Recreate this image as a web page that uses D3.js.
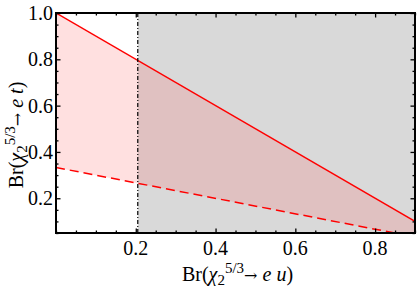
<!DOCTYPE html>
<html>
<head>
<meta charset="utf-8">
<script src="https://cdn.jsdelivr.net/npm/d3@7"></script>
<style>
    body { margin: 0; background: #fff; }
    text { font-family: "Liberation Serif", "DejaVu Serif", serif; }
</style>
</head>
<body>
<svg id="chart" width="417" height="288"></svg>
<script>
// data
var xDomain = [0, 0.9],
    yDomain = [0.05, 1.0],
    xTicks = [0.2, 0.4, 0.6, 0.8],
    yTicks = [0.2, 0.4, 0.6, 0.8, 1.0],
    cutX = 0.205,                       // excluded region starts here
    upperX = [0, 0.9], upperY = [1.0, 0.1],       // solid bound
    lowerX = [0, 0.9], lowerY = [0.333, 0.033];   // dashed bound

var margin = { top: 13, right: 2, bottom: 55, left: 56 },
    width = 417 - margin.left - margin.right,
    height = 288 - margin.top - margin.bottom;

var svg = d3.select('#chart'),
    g = svg.append('g').attr('transform', 'translate(' + margin.left + ',' + margin.top + ')');

var x = d3.scaleLinear().domain(xDomain).range([0, width]),
    y = d3.scaleLinear().domain(yDomain).range([height, 0]);

var clip = g.append('clipPath').attr('id', 'plot-clip');
clip.append('rect').attr('width', width).attr('height', height);

var plot = g.append('g').attr('clip-path', 'url(#plot-clip)');

// grey excluded region
plot.append('rect')
    .attr('x', x(cutX))
    .attr('y', 0)
    .attr('width', width - x(cutX))
    .attr('height', height)
    .attr('fill', '#d9d9d9');

// band between the two bounds
var band = upperX.map(function(d, i) { return { x: d, y0: lowerY[i], y1: upperY[i] }; });
plot.append('path')
    .datum(band)
    .attr('fill', 'rgb(255,100,100)')
    .attr('fill-opacity', 0.2)
    .attr('d', d3.area()
        .x(function(d) { return x(d.x); })
        .y0(function(d) { return y(d.y0); })
        .y1(function(d) { return y(d.y1); }));

var line = d3.line()
    .x(function(d) { return x(d[0]); })
    .y(function(d) { return y(d[1]); });

plot.append('path')
    .datum(d3.zip(upperX, upperY))
    .attr('fill', 'none')
    .attr('stroke', '#f00')
    .attr('stroke-width', 1.5)
    .attr('d', line);

plot.append('path')
    .datum(d3.zip(lowerX, lowerY))
    .attr('fill', 'none')
    .attr('stroke', '#f00')
    .attr('stroke-width', 1.5)
    .attr('stroke-dasharray', '9,5')
    .attr('d', line);

// dash-dot cut line
plot.append('line')
    .attr('x1', x(cutX)).attr('x2', x(cutX))
    .attr('y1', 0).attr('y2', height)
    .attr('stroke', '#000')
    .attr('stroke-width', 1.2)
    .attr('stroke-dasharray', '4,2,1,2');

// frame ticks, inward, on all four sides
function minor(domain, step) {
    var out = [];
    for (var v = Math.ceil(domain[0] / step) * step; v <= domain[1] + 1e-9; v += step) out.push(+v.toFixed(3));
    return out;
}
var xMinor = minor(xDomain, 0.05).filter(function(v) { return xTicks.indexOf(v) < 0; }),
    yMinor = minor(yDomain, 0.05).filter(function(v) { return yTicks.indexOf(v) < 0; });

function frameAxis(axis, ticks, len, transform) {
    g.append('g')
        .attr('transform', transform)
        .call(axis.tickValues(ticks).tickSize(len).tickFormat(''))
        .call(function(s) {
            s.select('.domain').remove();
            s.selectAll('line').attr('stroke', '#000').attr('stroke-width', 1.3);
        });
}
frameAxis(d3.axisTop(x), xTicks, 4.5, 'translate(0,' + height + ')');
frameAxis(d3.axisTop(x), xMinor, 2.5, 'translate(0,' + height + ')');
frameAxis(d3.axisBottom(x), xTicks, 4.5, 'translate(0,0)');
frameAxis(d3.axisBottom(x), xMinor, 2.5, 'translate(0,0)');
frameAxis(d3.axisRight(y), yTicks, 4.5, 'translate(0,0)');
frameAxis(d3.axisRight(y), yMinor, 2.5, 'translate(0,0)');
frameAxis(d3.axisLeft(y), yTicks, 4.5, 'translate(' + width + ',0)');
frameAxis(d3.axisLeft(y), yMinor, 2.5, 'translate(' + width + ',0)');

g.append('rect')
    .attr('width', width)
    .attr('height', height)
    .attr('fill', 'none')
    .attr('stroke', '#000')
    .attr('stroke-width', 2);

// tick labels
g.selectAll('.xlab')
    .data(xTicks)
    .enter().append('text')
    .attr('class', 'xlab')
    .attr('x', function(d) { return x(d); })
    .attr('y', height + 22)
    .attr('text-anchor', 'middle')
    .attr('font-size', 20)
    .text(d3.format('.1f'));

g.selectAll('.ylab')
    .data(yTicks)
    .enter().append('text')
    .attr('class', 'ylab')
    .attr('x', -3)
    .attr('y', function(d) { return y(d) + 7; })
    .attr('text-anchor', 'end')
    .attr('font-size', 20)
    .text(d3.format('.1f'));

// axis titles
function title(sel, final) {
    sel.append('tspan').text('Br(');
    sel.append('tspan').attr('font-style', 'italic').text('\u03c7');
    sel.append('tspan').attr('font-size', 15).attr('dy', 4).text('2');
    sel.append('tspan').attr('font-size', 15).attr('dy', -12).text('5/3');
    sel.append('tspan').attr('dy', 8).attr('font-family', 'DejaVu Serif').attr('font-size', 16).text('\u2192');
    sel.append('tspan').attr('font-style', 'italic').text(' e u'.replace('u', final));
    sel.append('tspan').text(')');
}

svg.append('text')
    .attr('x', margin.left + width / 2 + 2)
    .attr('y', 281)
    .attr('text-anchor', 'middle')
    .attr('font-size', 20)
    .call(title, 'u');

svg.append('text')
    .attr('transform', 'translate(23,' + (margin.top + height / 2 + 12) + ') rotate(-90)')
    .attr('text-anchor', 'middle')
    .attr('font-size', 20)
    .call(title, 't');
</script>
</body>
</html>
